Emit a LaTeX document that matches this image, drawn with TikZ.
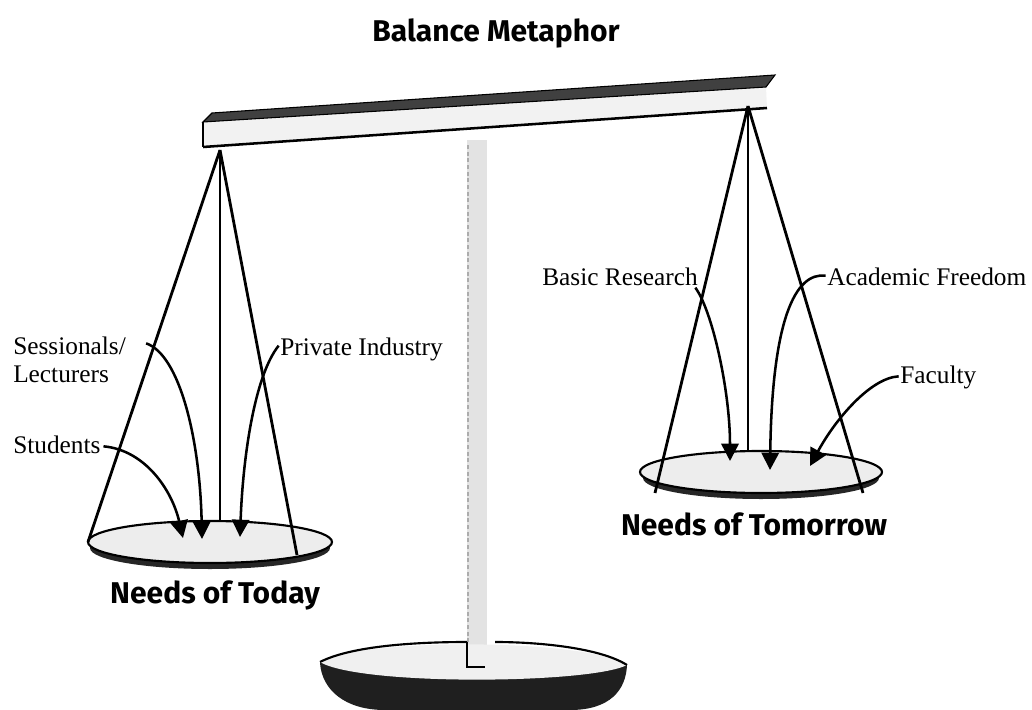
\documentclass[tikz,border=0pt]{standalone}
\usepackage{fontspec}
\setmainfont{Liberation Serif}
\newfontfamily\headfont{Fira Sans}
\usetikzlibrary{arrows.meta}
\begin{document}
\begin{tikzpicture}[x=0.75pt,y=-0.75pt,
  heading/.style={font=\headfont\bfseries\fontsize{22.5}{26}\selectfont, inner sep=0pt, anchor=base},
  lbl/.style={font=\fontsize{19}{22}\selectfont, inner sep=0pt},
  cord/.style={line width=2.1pt, black},
  ptr/.style={line width=1.9pt, black, -{Triangle[length=13pt,width=13pt]}},
  panface/.style={fill=gray!14, draw=black, line width=1.6pt},
  panshade/.style={fill=black!85, draw=none},
  beamtop/.style={fill=black!75, draw=black, line width=0.8pt},
  beamfront/.style={fill=gray!10, draw=none},
  postfill/.style={fill=gray!22, draw=none}]
\path[use as bounding box] (0,0) rectangle (1032,710);

% title
\node[heading] (title) at (496,42) {Balance Metaphor};

% central post
\fill[postfill] (467,140) rectangle (487,667);
\draw[gray!65, line width=1.4pt, dash pattern=on 3pt off 2pt] (468,145) -- (468,667);

% base plate: dark underside, then the light top surface
\path[fill=black!88] (320,663) .. controls (322,690) and (345,710) .. (385,710)
   -- (570,710) .. controls (610,710) and (626,690) .. (627,665) -- cycle;
\path[fill=gray!12] (320,662) .. controls (360,638) and (585,638) .. (627,665)
   .. controls (590,684) and (360,686) .. (320,662) -- cycle;
\draw[line width=1.6pt] (320,662) .. controls (355,644) and (430,642) .. (467,642);
\draw[line width=1.6pt] (495,642) .. controls (540,642) and (600,648) .. (627,665);
\draw[line width=1.6pt] (467,642) -- (467,667) -- (485,667);

% beam
\path[beamfront] (203,122) -- (766,87) -- (767,108) -- (203,147) -- cycle;
\path[beamtop] (212,113) -- (775,75) -- (766,87) -- (203,122) -- cycle;
\draw[line width=1.9pt] (203,147) -- (767,108);
\draw[line width=1pt] (203,122) -- (203,147);
\coordinate (lapex) at (220,150);
\coordinate (rapex) at (748,106);

% left pan
\path[panshade] (210,548) ellipse [x radius=120, y radius=21];
\path[panface] (210,542) ellipse [x radius=122, y radius=21];
\coordinate (lpL) at (88,542);
\coordinate (lpR) at (297,555);
\coordinate (lpC) at (220,521);
\draw[cord] (lapex) -- (lpL);
\draw[cord] (lapex) -- (lpR);
\draw[cord] (lapex) -- (lpC);
\node[heading] (today) at (215,603) {Needs of Today};

% right pan
\path[panshade] (761,478) ellipse [x radius=118, y radius=21];
\path[panface] (761,472) ellipse [x radius=121, y radius=21];
\coordinate (rpL) at (655,493);
\coordinate (rpR) at (863,493);
\coordinate (rpC) at (748,451);
\draw[cord] (rapex) -- (rpL);
\draw[cord] (rapex) -- (rpR);
\draw[cord] (rapex) -- (rpC);
\node[heading] (tomorrow) at (754,535) {Needs of Tomorrow};

% labels
\node[lbl, anchor=base west] (sess) at (13,354) {Sessionals/};
\node[lbl, anchor=base west] (lect) at (13,382) {Lecturers};
\node[lbl, anchor=base west] (stud) at (13,453) {Students};
\node[lbl, anchor=base west] (priv) at (280,355) {Private Industry};
\node[lbl, anchor=base east] (basic) at (698,285) {Basic Research};
\node[lbl, anchor=base west] (acad) at (827,285) {Academic Freedom};
\node[lbl, anchor=base west] (fac) at (900,383) {Faculty};

% arrow tips
\coordinate (tStud) at (183,538);
\coordinate (tSess) at (202,539);
\coordinate (tPriv) at (240,537);
\coordinate (tBasic) at (730,461);
\coordinate (tAcad) at (770,470);
\coordinate (tFac) at (810,466);

% pointers
\draw[ptr] ([xshift=2pt,yshift=5pt]stud.base east) .. controls (145,450) and (172,490) .. (tStud);
\draw[ptr] ([xshift=15pt,yshift=8pt]sess.base east) .. controls (180,355) and (200,440) .. (tSess);
\draw[ptr] ([xshift=-1pt,yshift=7pt]priv.base west) .. controls (255,375) and (243,455) .. (tPriv);
\draw[ptr] ([xshift=-2pt,yshift=-2pt]basic.base east) .. controls (712,310) and (730,390) .. (tBasic);
\draw[ptr] ([xshift=-1pt,yshift=7pt]acad.base west) .. controls (795,272) and (772,320) .. (tAcad);
\draw[ptr] ([xshift=-1pt,yshift=5pt]fac.base west) .. controls (870,378) and (835,420) .. (tFac);
\end{tikzpicture}
\end{document}
